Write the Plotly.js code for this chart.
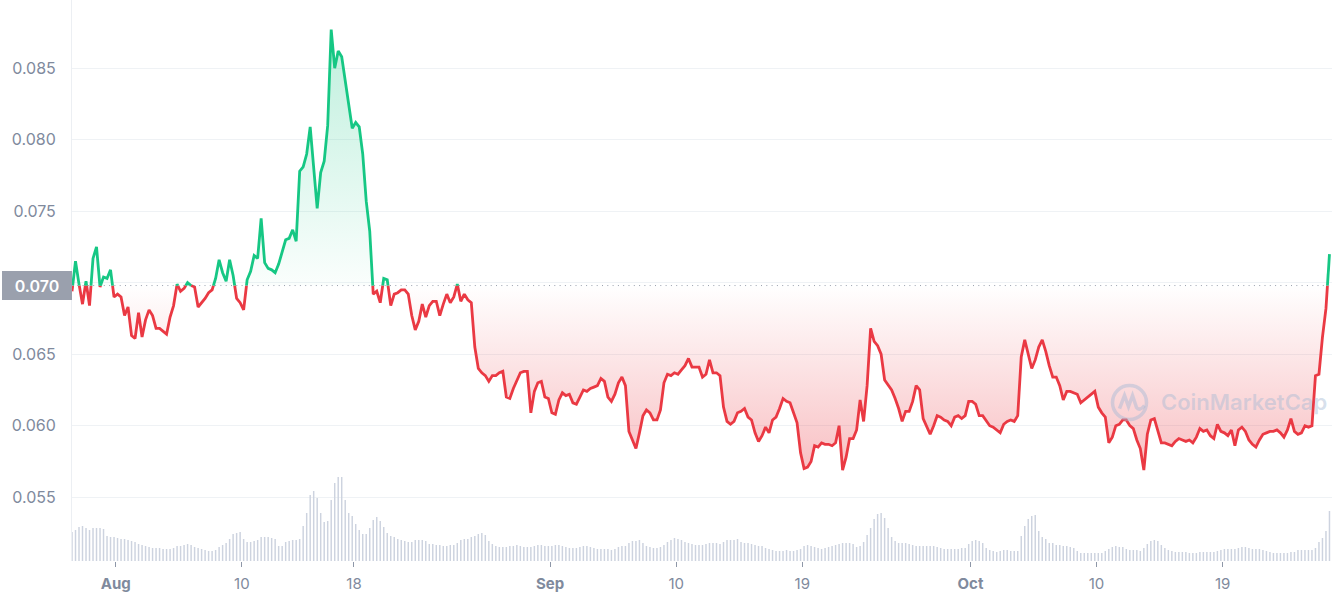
<!DOCTYPE html>
<html><head><meta charset="utf-8">
<script src="https://cdn.plot.ly/plotly-3.0.1.min.js"></script>
<style>html,body{margin:0;padding:0;background:#fff;}#chart{width:1332px;height:600px;}</style>
</head><body><div id="chart"></div>
<script>
// ---- data (6-hourly samples starting 2022-07-28 21:00) ----
const startTime = [2022, 6, 28, 21];
const stepHours = 6;
const price = [
0.0694,0.0715,0.0699,0.0685,0.0701,0.0684,0.0717,0.0725,0.0697,0.0704,
0.0703,0.0709,0.0690,0.0692,0.0690,0.0677,0.0683,0.0663,0.0661,0.0679,
0.0662,0.0674,0.0681,0.0677,0.0668,0.0668,0.0666,0.0664,0.0676,0.0684,
0.0699,0.0694,0.0696,0.0700,0.0698,0.0697,0.0683,0.0686,0.0689,0.0693,
0.0695,0.0703,0.0716,0.0707,0.0701,0.0716,0.0705,0.0689,0.0686,0.0681,
0.0702,0.0708,0.0719,0.0717,0.0745,0.0714,0.0710,0.0709,0.0707,0.0713,
0.0721,0.0730,0.0731,0.0737,0.0729,0.0778,0.0781,0.0790,0.0809,0.0778,
0.0752,0.0777,0.0785,0.0810,0.0877,0.0850,0.0862,0.0858,0.0841,0.0823,
0.0808,0.0812,0.0809,0.0790,0.0757,0.0736,0.0692,0.0694,0.0686,0.0703,
0.0702,0.0684,0.0692,0.0693,0.0695,0.0695,0.0692,0.0677,0.0667,0.0673,
0.0685,0.0676,0.0684,0.0687,0.0687,0.0677,0.0685,0.0692,0.0686,0.0690,
0.0699,0.0687,0.0692,0.0688,0.0686,0.0655,0.0640,0.0637,0.0635,0.0631,
0.0635,0.0635,0.0637,0.0638,0.0620,0.0619,0.0626,0.0631,0.0637,0.0638,
0.0638,0.0609,0.0624,0.0630,0.0631,0.0620,0.0619,0.0609,0.0608,0.0618,
0.0623,0.0621,0.0622,0.0616,0.0615,0.0620,0.0625,0.0624,0.0626,0.0627,
0.0628,0.0633,0.0631,0.0620,0.0617,0.0622,0.0630,0.0634,0.0628,0.0596,
0.0590,0.0584,0.0595,0.0607,0.0611,0.0609,0.0604,0.0604,0.0611,0.0630,
0.0636,0.0635,0.0637,0.0636,0.0639,0.0642,0.0647,0.0641,0.0641,0.0641,
0.0634,0.0636,0.0646,0.0637,0.0637,0.0635,0.0613,0.0603,0.0601,0.0603,
0.0609,0.0610,0.0612,0.0606,0.0604,0.0595,0.0589,0.0593,0.0599,0.0595,
0.0604,0.0606,0.0612,0.0619,0.0617,0.0616,0.0609,0.0602,0.0581,0.0570,
0.0571,0.0575,0.0586,0.0585,0.0588,0.0587,0.0587,0.0586,0.0588,0.0600,
0.0569,0.0578,0.0591,0.0591,0.0597,0.0618,0.0603,0.0628,0.0668,0.0659,
0.0656,0.0650,0.0632,0.0628,0.0625,0.0619,0.0612,0.0603,0.0610,0.0610,
0.0617,0.0628,0.0625,0.0605,0.0600,0.0594,0.0600,0.0607,0.0606,0.0604,
0.0603,0.0600,0.0606,0.0607,0.0605,0.0607,0.0617,0.0617,0.0615,0.0607,
0.0607,0.0603,0.0600,0.0599,0.0597,0.0595,0.0601,0.0603,0.0604,0.0603,
0.0607,0.0648,0.0660,0.0650,0.0640,0.0646,0.0655,0.0660,0.0652,0.0642,
0.0634,0.0634,0.0628,0.0618,0.0624,0.0624,0.0623,0.0622,0.0616,0.0618,
0.0620,0.0622,0.0624,0.0613,0.0609,0.0606,0.0588,0.0592,0.0600,0.0601,
0.0604,0.0604,0.0600,0.0598,0.0590,0.0584,0.0569,0.0594,0.0604,0.0605,
0.0597,0.0588,0.0588,0.0587,0.0586,0.0589,0.0591,0.0590,0.0589,0.0590,
0.0588,0.0592,0.0598,0.0596,0.0597,0.0593,0.0591,0.0601,0.0596,0.0595,
0.0593,0.0597,0.0586,0.0597,0.0599,0.0596,0.0590,0.0587,0.0585,0.0590,
0.0594,0.0595,0.0596,0.0596,0.0597,0.0595,0.0592,0.0597,0.0605,0.0596,
0.0594,0.0595,0.0600,0.0599,0.0600,0.0635,0.0636,0.0662,0.0682,0.0720
];
const volume = [
29,31,34,35,33,31,33,33,33,32, 25,24,24,23,22,22,21,20,19,17,
16,15,14,13,13,13,12,12,12,13, 15,15,16,17,16,14,13,12,11,10,
10,11,14,16,18,22,27,28,29,22, 19,19,20,21,24,24,24,23,22,15,
15,19,20,21,21,22,35,48,66,70, 63,48,39,40,61,78,84,84,61,48,
45,37,31,27,27,33,41,44,40,34, 28,25,24,22,21,20,19,19,21,21,
21,20,17,17,16,16,15,15,16,16, 18,21,22,22,24,25,27,28,26,20,
17,15,14,14,14,15,15,16,15,14, 14,14,15,16,16,15,15,15,16,16,
15,14,13,13,13,14,15,15,14,13, 12,12,12,12,11,12,14,15,15,18,
20,20,21,18,15,14,13,13,14,16, 19,21,23,22,21,19,18,17,16,16,
16,17,18,18,18,17,19,21,21,21, 22,19,18,18,17,16,15,15,13,12,
11,10,10,10,11,10,10,11,12,15, 16,15,14,13,12,13,14,15,16,17,
18,18,18,17,14,15,19,26,33,42, 47,48,43,33,24,20,18,18,18,17,
16,15,15,15,15,15,15,14,13,12, 12,12,12,12,13,13,17,20,21,20,
18,13,11,10,9,10,11,11,10,10, 10,25,35,42,45,46,30,24,22,18,
18,16,16,15,15,14,13,10,8,8, 8,8,8,8,8,10,12,14,15,14,
14,12,11,11,11,10,13,17,20,21, 20,16,13,11,10,9,9,9,9,8,
8,8,9,9,9,9,9,10,11,12, 12,12,12,13,14,14,13,12,12,12,
11,10,9,8,8,8,8,8,9,9, 11,11,11,11,11,13,19,23,30,50
];
const baseline = 0.0698;
const baselineLabel = '0.070';
const yTicks = [0.055, 0.060, 0.065, 0.070, 0.075, 0.080, 0.085];
const yTickText = ['0.055', '0.060', '0.065', '', '0.075', '0.080', '0.085']; // 0.070 sits under the baseline label
const xTickDates = ['2022-08-01','2022-08-10','2022-08-18','2022-09-01','2022-09-10','2022-09-19','2022-10-01','2022-10-10','2022-10-19'];
const xTickText = ['<b>Aug</b>','10','18','<b>Sep</b>','10','19','<b>Oct</b>','10','19'];

// ---- build traces ----
const GREEN = '#16c784', RED = '#ea3943';
const t0 = Date.UTC(startTime[0], startTime[1], startTime[2], startTime[3]);
const stepMs = stepHours * 3600 * 1000;
const fmt = ms => new Date(ms).toISOString().slice(0, 23).replace('T', ' ');
const times = price.map((_, i) => fmt(t0 + i * stepMs));

// insert baseline crossing points so colour switches exactly at the baseline
const T = [], V = [];
price.forEach((p, i) => {
  if (i > 0) {
    const a = price[i - 1];
    if ((a - baseline) * (p - baseline) < 0) {
      const f = (baseline - a) / (p - a);
      T.push(fmt(t0 + (i - 1 + f) * stepMs)); V.push(baseline);
    }
  }
  T.push(fmt(t0 + i * stepMs)); V.push(p);
});
const baseArr = T.map(() => baseline);
const pMax = Math.max(...price), pMin = Math.min(...price);

const traces = [
  { type: 'bar', x: times, y: volume, yaxis: 'y2', marker: { color: '#cdd3df' },
    width: stepMs * 0.42, hoverinfo: 'skip' },
  { type: 'scatter', mode: 'lines', x: T, y: baseArr, line: { width: 0 }, hoverinfo: 'skip' },
  { type: 'scatter', mode: 'lines', x: T, y: V.map(v => Math.max(v, baseline)), line: { width: 0 },
    fill: 'tonexty', hoverinfo: 'skip',
    fillgradient: { type: 'vertical', start: baseline, stop: pMax,
      colorscale: [[0, 'rgba(22,199,132,0.02)'], [1, 'rgba(22,199,132,0.28)']] } },
  { type: 'scatter', mode: 'lines', x: T, y: baseArr, line: { width: 0 }, hoverinfo: 'skip' },
  { type: 'scatter', mode: 'lines', x: T, y: V.map(v => Math.min(v, baseline)), line: { width: 0 },
    fill: 'tonexty', hoverinfo: 'skip',
    fillgradient: { type: 'vertical', start: pMin, stop: baseline,
      colorscale: [[0, 'rgba(234,57,67,0.32)'], [1, 'rgba(234,57,67,0.0)']] } },
  { type: 'scatter', mode: 'lines', x: T, y: V.map(v => v <= baseline ? v : null),
    line: { color: RED, width: 2.8 }, connectgaps: false },
  { type: 'scatter', mode: 'lines', x: T, y: V.map(v => v >= baseline ? v : null),
    line: { color: GREEN, width: 2.8 }, connectgaps: false }
];

const WM = 'rgba(165,185,212,0.45)';
const layout = {
  width: 1332, height: 600,
  margin: { l: 72, r: 0, t: 0, b: 39 },
  paper_bgcolor: '#ffffff', plot_bgcolor: '#ffffff',
  font: { family: 'Inter, "Open Sans", sans-serif', color: '#808a9d' },
  showlegend: false, hovermode: false,
  xaxis: {
    type: 'date', range: ['2022-07-28 21:00', '2022-10-26 19:20'],
    tickmode: 'array', tickvals: xTickDates, ticktext: xTickText,
    ticks: 'outside', ticklen: 5, tickwidth: 1, tickcolor: '#8e97a8',
    tickfont: { size: 15, color: '#808a9d' }, ticklabelstandoff: 4,
    showgrid: false, zeroline: false, showline: false
  },
  yaxis: {
    range: [0.050538, 0.089769], tickmode: 'array', tickvals: yTicks, ticktext: yTickText,
    showgrid: true, gridcolor: '#eff2f5', gridwidth: 1,
    showline: true, linecolor: '#eceff3', linewidth: 1, zeroline: false,
    ticks: '', ticklabelstandoff: 12, tickfont: { size: 16, color: '#808a9d' }
  },
  yaxis2: { overlaying: 'y', range: [0, 561], visible: false },
  shapes: [
    { type: 'line', xref: 'paper', x0: 0, x1: 1, yref: 'y', y0: baseline, y1: baseline,
      line: { color: '#9aa0ad', width: 1, dash: '1px,4.3px' } },
    { type: 'circle', xref: 'paper', yref: 'paper', xsizemode: 'pixel', ysizemode: 'pixel',
      xanchor: 0.8393, yanchor: 0.2825, x0: -17, x1: 17, y0: -17, y1: 17,
      line: { color: WM, width: 3.5 } },
    { type: 'path', xref: 'paper', yref: 'paper', xsizemode: 'pixel', ysizemode: 'pixel',
      xanchor: 0.8393, yanchor: 0.2825,
      path: 'M -10,-6 L -5,7 L -1,-4 L 3,7 L 7,-5 Q 10,-9 15,-3',
      line: { color: WM, width: 3.5 } }
  ],
  annotations: [
    { xref: 'paper', x: 0, xanchor: 'right', yref: 'y', y: baseline, yanchor: 'middle',
      text: baselineLabel, showarrow: false, bgcolor: '#9aa0ad', borderwidth: 0,
      width: 66, height: 25, borderpad: 2, align: 'center', valign: 'middle',
      font: { color: '#ffffff', size: 16, weight: 600 } },
    { xref: 'paper', x: 0.8627, xanchor: 'left', yref: 'paper', y: 0.2834, yanchor: 'middle',
      text: 'CoinMarketCap', showarrow: false,
      font: { color: WM, size: 22, weight: 600 } }
  ]
};

Plotly.newPlot('chart', traces, layout, { staticPlot: true, displayModeBar: false });
</script>
</body></html>
